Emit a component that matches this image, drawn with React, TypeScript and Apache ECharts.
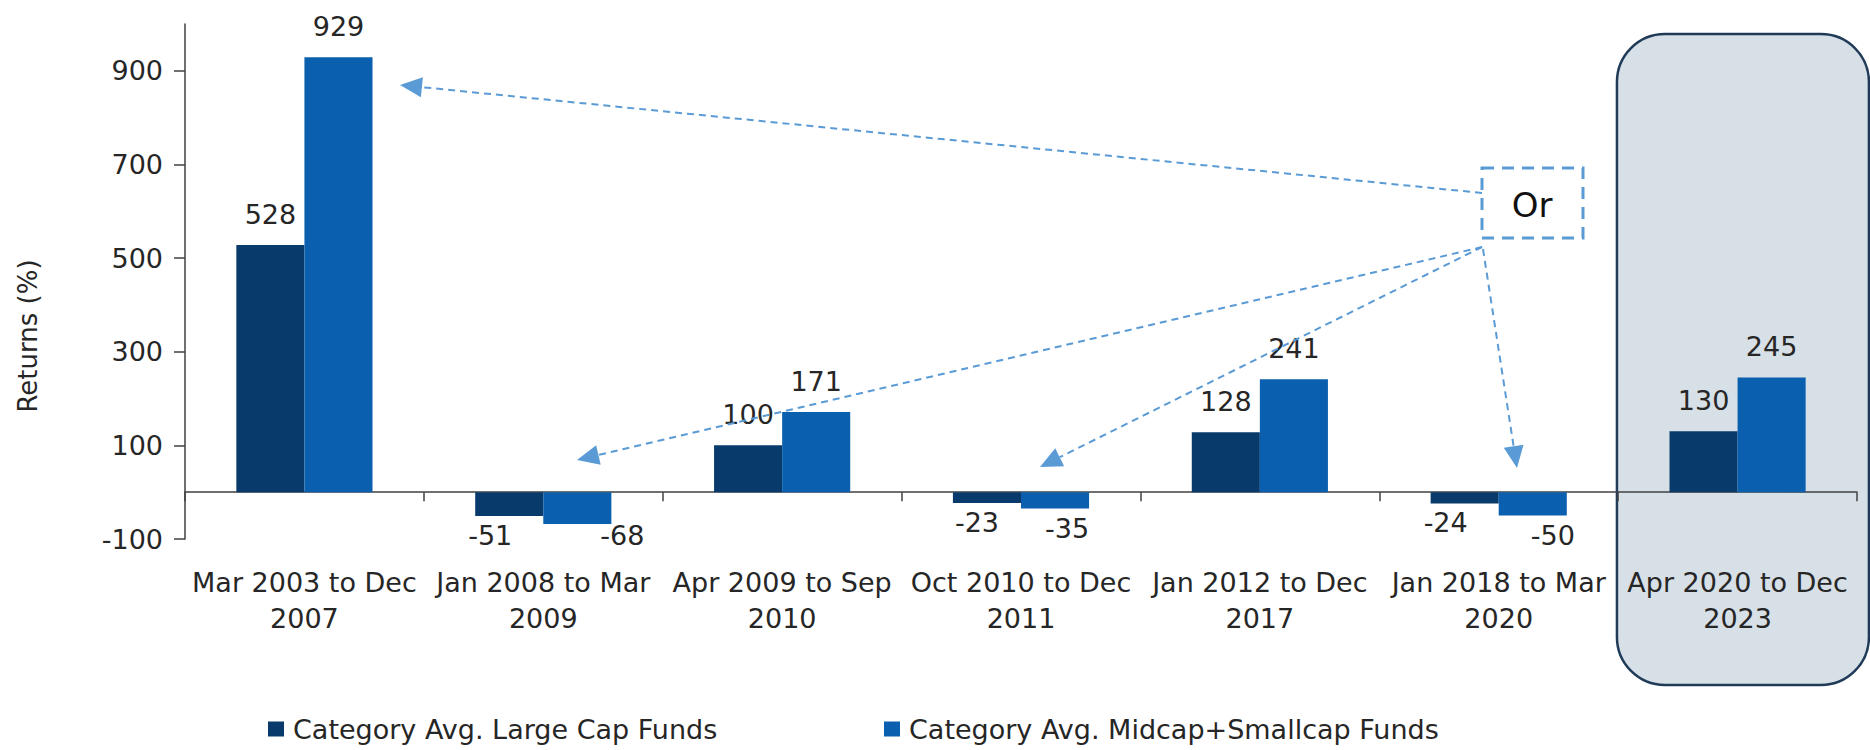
import React, { useEffect, useRef } from 'react';
import * as echarts from 'echarts';

const categories = [
  'Mar 2003 to Dec 2007',
  'Jan 2008 to Mar 2009',
  'Apr 2009 to Sep 2010',
  'Oct 2010 to Dec 2011',
  'Jan 2012 to Dec 2017',
  'Jan 2018 to Mar 2020',
  'Apr 2020 to Dec 2023',
];
const largeCap = [528, -51, 100, -23, 128, -24, 130];
const midSmallCap = [929, -68, 171, -35, 241, -50, 245];
const yTicks = [-100, 100, 300, 500, 700, 900];
const seriesNames = ['Category Avg. Large Cap Funds', 'Category Avg. Midcap+Smallcap Funds'];
const highlightCategory = 'Apr 2020 to Dec 2023';
const orText = 'Or';

// label nudges (style only)
const largeLabelNudge = [[0, 0], [-19, 0], [0, 0], [-10, 0], [0, 0], [-19, 0], [0, 0]];
const midLabelNudge = [[0, 0], [45, -8], [0, 0], [12, 0], [0, 0], [20, 0], [0, 0]];

const FONT = 'DejaVu Sans';
const TXT = '#262626';
const AXIS = '#404040';
const DARK = '#083a6b';
const BLUE = '#0a5fae';
const ARROW = '#5b9bd5';

function makeData(values: number[], nudges: number[][]) {
  return values.map((v, i) => ({
    value: v,
    label: {
      position: v < 0 ? 'bottom' : 'top',
      distance: v < 0 ? 6 : 17,
      offset: nudges[i],
    },
  }));
}

function arrow(sx: number, sy: number, tx: number, ty: number) {
  const dx = tx - sx;
  const dy = ty - sy;
  const len = Math.sqrt(dx * dx + dy * dy);
  const ux = dx / len;
  const uy = dy / len;
  const L = 22;
  const W = 10;
  const bx = tx - ux * L;
  const by = ty - uy * L;
  const nx = -uy;
  const ny = ux;
  return [
    {
      type: 'line',
      shape: { x1: sx, y1: sy, x2: bx, y2: by },
      style: { stroke: ARROW, lineWidth: 2, lineDash: [7, 5] },
      z: 50,
    },
    {
      type: 'polygon',
      shape: { points: [[tx, ty], [bx + nx * W, by + ny * W], [bx - nx * W, by - ny * W]] },
      style: { fill: ARROW },
      z: 50,
    },
  ];
}

export default function App() {
  const ref = useRef<HTMLDivElement>(null);
  useEffect(() => {
    if (!ref.current) return;
    const chart = echarts.init(ref.current, undefined, { renderer: 'svg' });
    const labelStyle = { fontFamily: FONT, fontSize: 27, color: TXT };
    const legendText = { ...labelStyle, lineHeight: 30, padding: [0, 0, 0, 4] };
    const option: any = {
      animation: false,
      backgroundColor: '#ffffff',
      grid: { left: 185, right: 13, top: 24, bottom: 211, containLabel: false },
      legend: [
        {
          data: [seriesNames[0]],
          left: 268,
          top: 714,
          padding: 0,
          icon: 'rect',
          itemWidth: 16,
          itemHeight: 15,
          textStyle: legendText,
        },
        {
          data: [seriesNames[1]],
          left: 884,
          top: 714,
          padding: 0,
          icon: 'rect',
          itemWidth: 16,
          itemHeight: 15,
          textStyle: legendText,
        },
      ],
      xAxis: [
        {
          type: 'category',
          data: categories,
          position: 'bottom',
          axisLine: { show: true, onZero: true, lineStyle: { color: AXIS, width: 1.5 } },
          axisTick: { show: true, length: 9, lineStyle: { color: AXIS, width: 1.5 } },
          axisLabel: { show: false },
          splitLine: { show: false },
        },
        {
          type: 'category',
          data: categories,
          position: 'bottom',
          axisLine: { show: false, onZero: false },
          axisTick: { show: false },
          axisLabel: {
            show: true,
            margin: 25,
            interval: 0,
            ...labelStyle,
            lineHeight: 36,
            formatter: (v: string) => {
              const k = v.lastIndexOf(' ');
              return v.slice(0, k) + '\n' + v.slice(k + 1);
            },
          },
          splitLine: { show: false },
        },
      ],
      yAxis: {
        type: 'value',
        min: -100,
        max: 1000,
        axisLine: { show: true, lineStyle: { color: AXIS, width: 1.5 } },
        axisTick: { show: true, length: 11, customValues: yTicks, lineStyle: { color: AXIS, width: 1.5 } },
        axisLabel: { show: true, customValues: yTicks, margin: 22, ...labelStyle },
        splitLine: { show: false },
      },
      series: [
        {
          name: seriesNames[0],
          type: 'bar',
          xAxisIndex: 0,
          data: makeData(largeCap, largeLabelNudge),
          itemStyle: { color: DARK },
          barGap: '0%',
          barCategoryGap: '43%',
          label: { show: true, ...labelStyle },
        },
        {
          name: seriesNames[1],
          type: 'bar',
          xAxisIndex: 0,
          data: makeData(midSmallCap, midLabelNudge),
          itemStyle: { color: BLUE },
          barGap: '0%',
          barCategoryGap: '43%',
          label: { show: true, ...labelStyle },
        },
      ],
    };
    chart.setOption(option);

    const idx = categories.indexOf(highlightCategory);
    const cx = chart.convertToPixel({ xAxisIndex: 0 }, categories[idx]) as number;
    const prev = chart.convertToPixel({ xAxisIndex: 0 }, categories[idx - 1]) as number;
    const band = cx - prev;

    const graphics: any[] = [
      {
        type: 'rect',
        shape: { x: cx - band * 0.505, y: 34, width: band * 1.055, height: 651, r: 48 },
        style: { fill: '#d7dfe7', stroke: '#1f3b58', lineWidth: 2.5 },
        z: -10,
      },
      {
        type: 'rect',
        shape: { x: 1482, y: 168, width: 101, height: 70 },
        style: { fill: 'rgba(255,255,255,0)', stroke: ARROW, lineWidth: 3, lineDash: [12, 8] },
        z: 50,
      },
      {
        type: 'text',
        x: 1532,
        y: 205,
        style: {
          text: orText,
          fontFamily: FONT,
          fontSize: 34,
          fill: '#111111',
          align: 'center',
          verticalAlign: 'middle',
        },
        z: 50,
      },
      {
        type: 'text',
        x: 28,
        y: 336,
        rotation: Math.PI / 2,
        style: {
          text: 'Returns (%)',
          fontFamily: FONT,
          fontSize: 26,
          fill: TXT,
          align: 'center',
          verticalAlign: 'middle',
        },
      },
      ...arrow(1482, 193, 400, 85),
      ...arrow(1482, 247, 577, 460),
      ...arrow(1482, 247, 1040, 467),
      ...arrow(1483, 249, 1517, 468),
    ];
    chart.setOption({ graphic: graphics });

    return () => chart.dispose();
  }, []);
  return (
    <div
      ref={ref}
      style={{ position: 'fixed', left: 0, top: 0, width: 1870, height: 750, background: '#fff' }}
    />
  );
}
